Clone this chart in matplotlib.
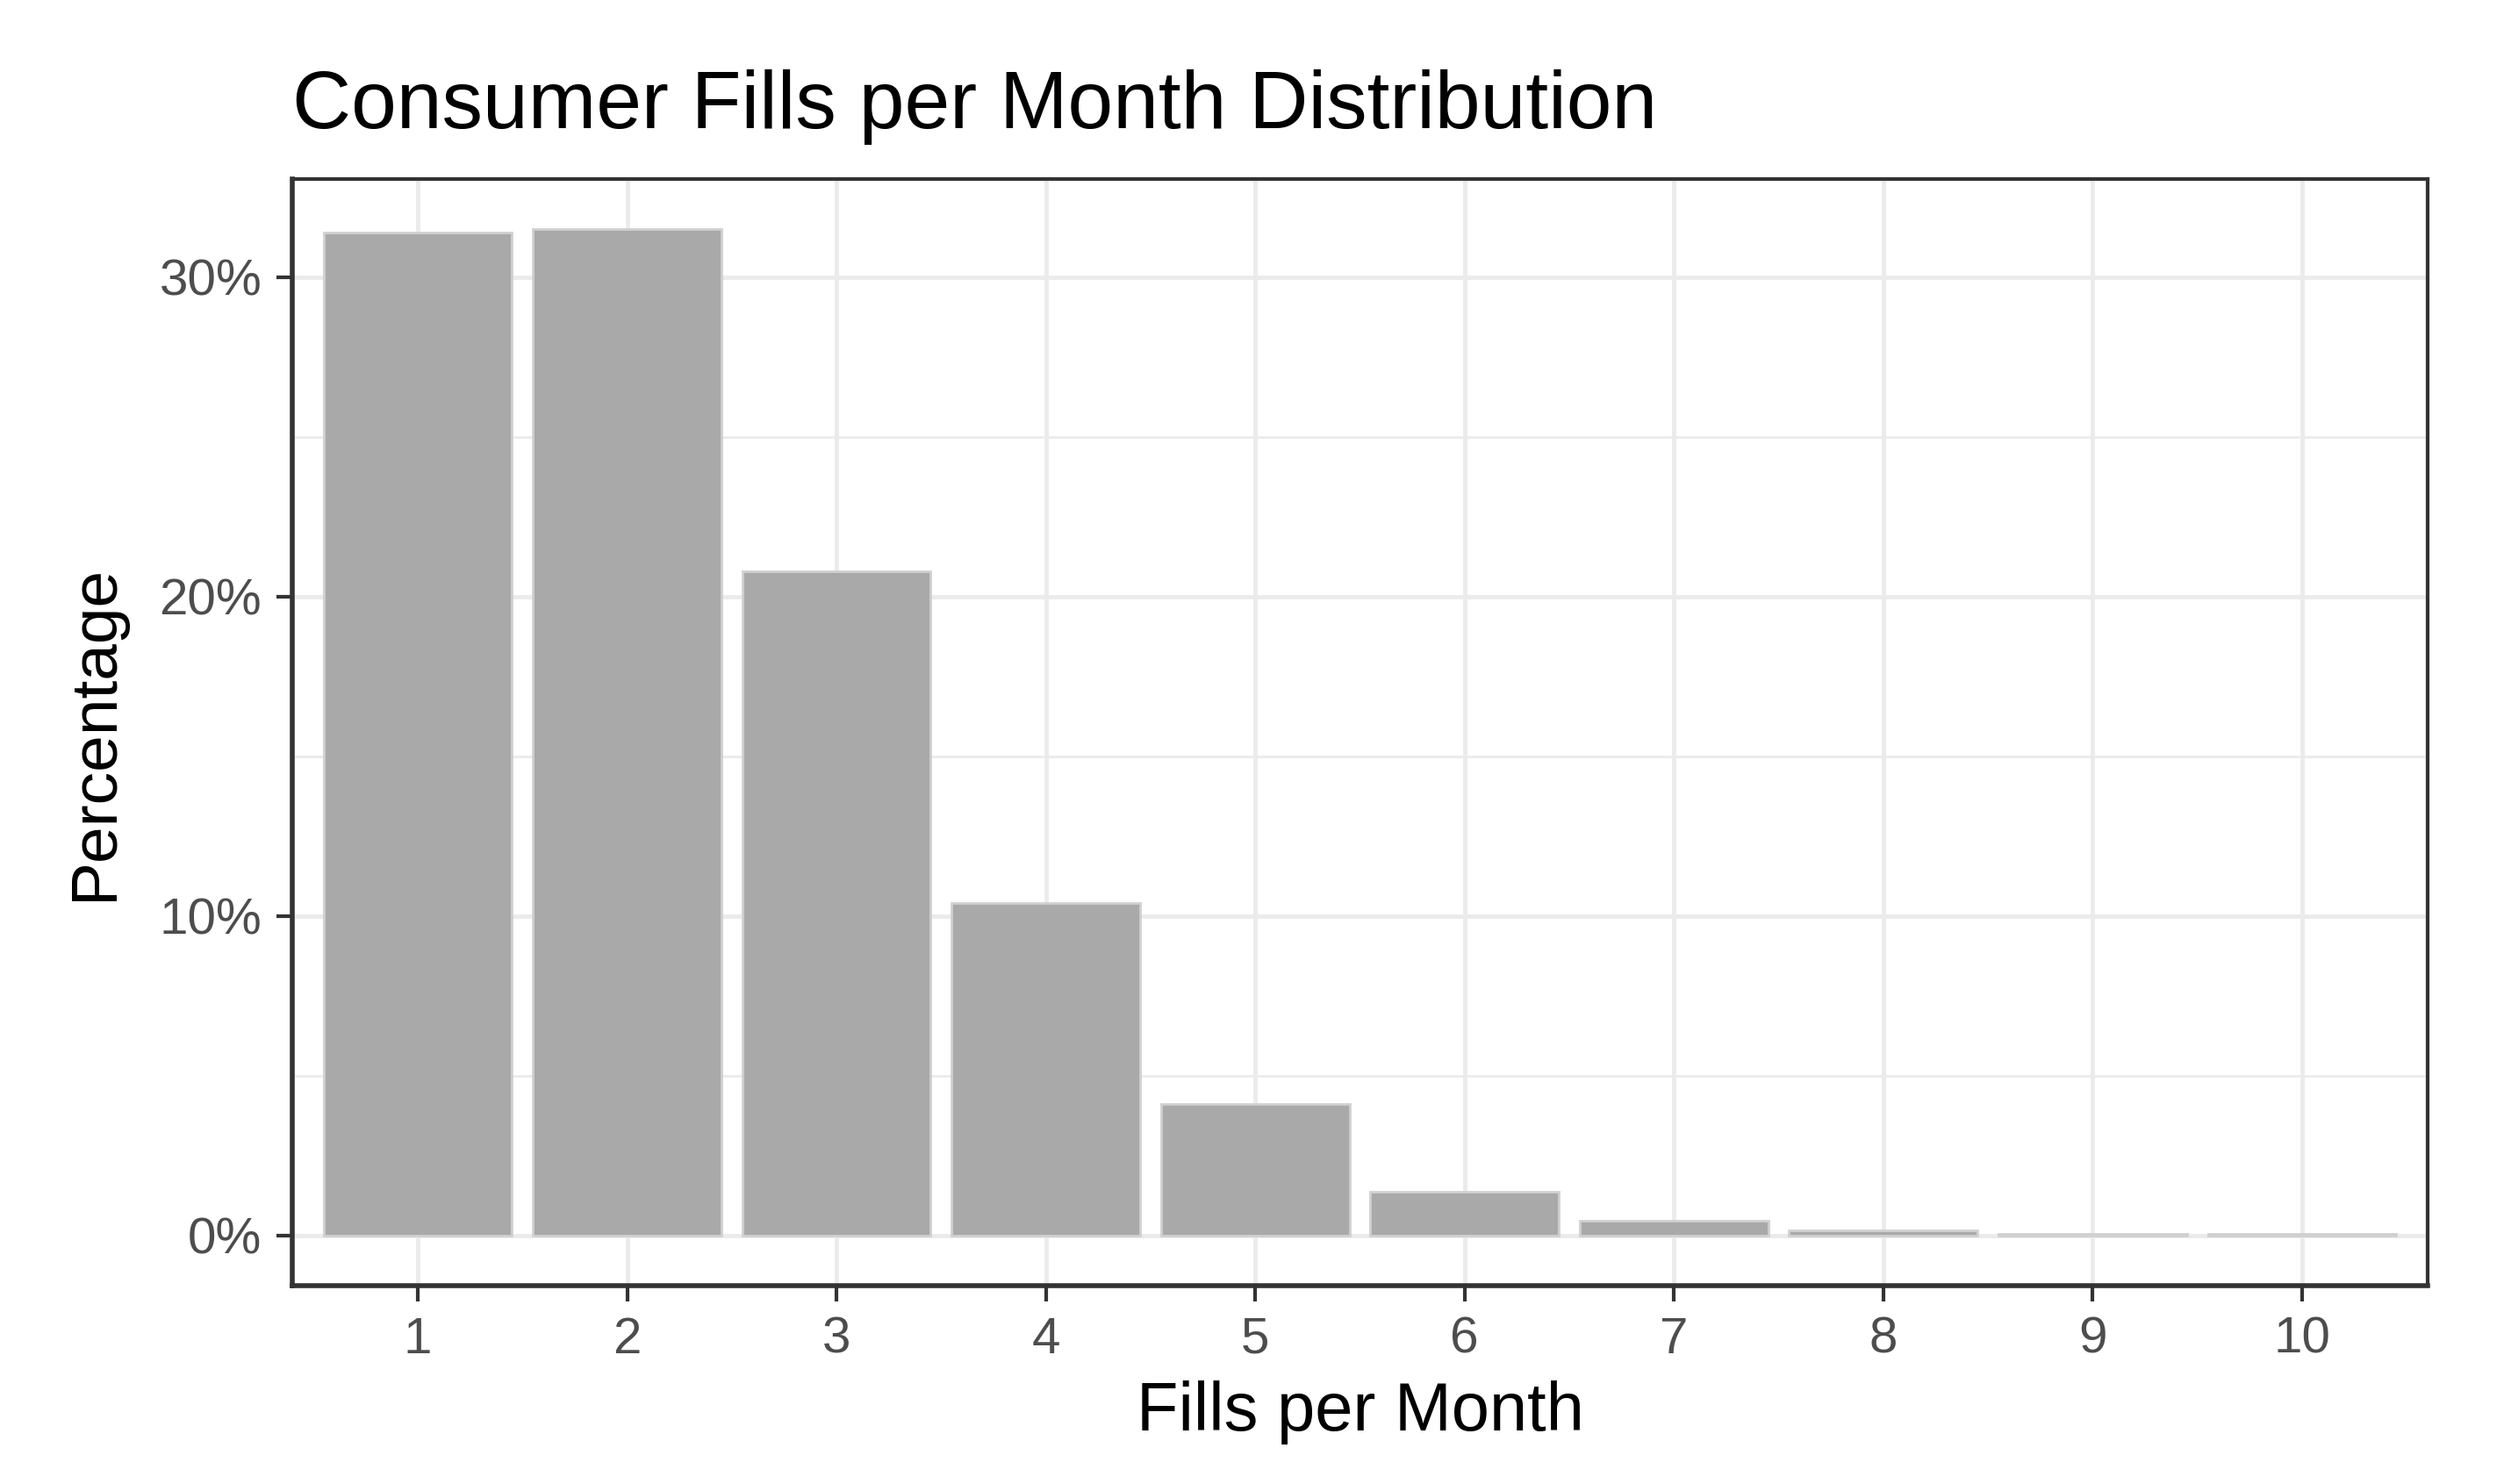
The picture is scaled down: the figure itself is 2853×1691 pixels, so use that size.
import matplotlib.pyplot as plt
from matplotlib.ticker import FuncFormatter

plt.rcParams['font.family'] = ['Liberation Sans', 'DejaVu Sans']

# Data
fills = [1, 2, 3, 4, 5, 6, 7, 8, 9, 10]
pct = [31.4, 31.5, 20.8, 10.4, 4.1, 1.35, 0.45, 0.15, 0.05, 0.05]
y_major = [0, 10, 20, 30]
y_minor = [5, 15, 25]

fig = plt.figure(figsize=(28.53, 16.91), dpi=100)
ax = fig.add_axes([0.1167, 0.1337, 0.8528, 0.7457])

# grid (theme_bw style)
for y in y_minor:
    ax.axhline(y, color='#EBEBEB', lw=2.0, zorder=0)
for y in y_major:
    ax.axhline(y, color='#EBEBEB', lw=3.5, zorder=0)
for x in fills:
    ax.axvline(x, color='#EBEBEB', lw=3.5, zorder=0)

ax.bar(fills, pct, width=0.9, color='#A9A9A9', edgecolor='#D0D0D0', linewidth=2, zorder=2)

ax.set_xlim(0.4, 10.6)
ax.set_ylim(-1.575, 33.075)
ax.set_xticks(fills)
ax.set_yticks(y_major)
ax.yaxis.set_major_formatter(FuncFormatter(lambda v, p: f'{v:.0f}%'))

for s in ax.spines.values():
    s.set_color('#333333')
    s.set_linewidth(3)
ax.spines['left'].set_linewidth(4)
ax.spines['bottom'].set_linewidth(4)

ax.tick_params(axis='both', length=13, width=3, color='#333333',
               labelcolor='#4D4D4D', labelsize=42)
ax.tick_params(axis='x', pad=12)
ax.tick_params(axis='y', pad=12)

ax.set_xlabel('Fills per Month', fontsize=56, labelpad=14)
ax.set_ylabel('Percentage', fontsize=54, labelpad=28)
ax.set_title('Consumer Fills per Month Distribution', loc='left', fontsize=67, pad=42)

fig.savefig('out.png', dpi=100, facecolor='white')
